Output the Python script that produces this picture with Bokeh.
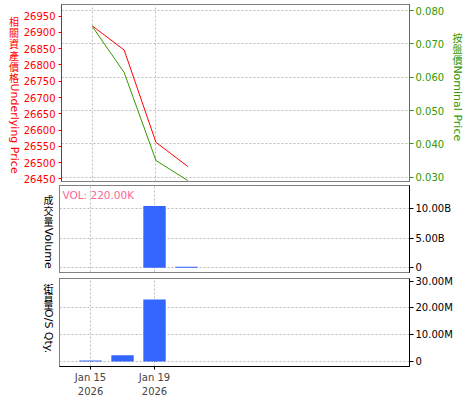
import math
from bokeh.plotting import figure
from bokeh.models import Range1d, LinearAxis, FixedTicker, Grid, Label, ColumnDataSource
from bokeh.layouts import column, row
from bokeh.embed import file_html
from bokeh.resources import INLINE

# ---------------- data ----------------
dates = ["Jan 15", "Jan 16", "Jan 19", "Jan 20"]
year = "2026"
day_index = [0, 1, 2, 3]
underlying_price = [26920, 26846, 26562, 26488]
nominal_price = [0.0752, 0.0614, 0.0350, 0.0290]
volume = [0.0, 0.0, 10.4e9, 0.15e9]
os_qty = [0.37e6, 2.35e6, 23.2e6, float("nan")]
vol_latest_label = "VOL: 220.00K"

x_tick_positions = [0, 2]
und_ticks = [26450, 26500, 26550, 26600, 26650, 26700, 26750, 26800, 26850, 26900, 26950]
nom_ticks = [0.03, 0.04, 0.05, 0.06, 0.07, 0.08]
vol_ticks = [0, 5e9, 10e9]
vol_tick_labels = ["0", "5.00B", "10.00B"]
os_ticks = [0, 1e7, 2e7, 3e7]
os_tick_labels = ["0", "10.00M", "20.00M", "30.00M"]

und_title_cjk = "相關資產價格"
und_title_latin = "Underlying Price"
nom_title_cjk = "按盤價"
nom_title_latin = "Nominal Price"
vol_title_cjk = "成交量"
vol_title_latin = "Volume"
os_title_cjk = "街貨量"
os_title_latin = "O/S Qty."

# ---------------- styles ----------------
RED = "#FF0000"
GREEN = "#339900"
BAR = "#3366FF"
PINK = "#FF6699"
GRID = "#BBBBBB"
TICK_FONT = "DejaVu Sans"
TICK_SIZE = "10px"
CJK_FONT = "Noto Sans CJK TC"
LAT_FONT = "DejaVu Sans"
PITCH = 11.6

TOTAL_W = 474
FRAME_L = 59      # page x of the frame's left edge
FRAME_R = 409     # page x of the frame's right edge
FRAME_W = FRAME_R - FRAME_L
X0, X1 = -0.97, 9.97

src = ColumnDataSource(dict(x=day_index, und=underlying_price, nom=nominal_price,
                            vol=volume, osq=os_qty))


def style_grids(p, yticks):
    for g in p.center:
        if isinstance(g, Grid):
            g.grid_line_color = GRID
            g.grid_line_dash = "2 2"
            g.grid_line_width = 1
            if g.dimension == 0:
                g.ticker = FixedTicker(ticks=x_tick_positions)
            elif yticks is not None:
                g.ticker = FixedTicker(ticks=yticks)


def panel(page_left, page_right, height, top, bottom, y_range, x_axis=None):
    p = figure(width=page_right - page_left, height=height, output_backend="svg",
               toolbar_location=None,
               x_range=Range1d(X0, X1), y_range=y_range,
               x_axis_location=x_axis, y_axis_location="right",
               min_border_left=FRAME_L - page_left,
               min_border_right=page_right - FRAME_R,
               min_border_top=top, min_border_bottom=bottom)
    p.background_fill_color = "white"
    p.border_fill_color = "white"
    p.outline_line_color = "black"
    p.outline_line_dash = "1 1"
    p.outline_line_width = 1
    return p


def style_axis(ax, color, ticks):
    ax.ticker = FixedTicker(ticks=ticks)
    ax.axis_line_color = color
    ax.major_tick_line_color = color
    ax.minor_tick_line_color = None
    ax.major_tick_out = 4
    ax.major_tick_in = 0
    ax.major_label_text_color = color
    ax.major_label_text_font = TICK_FONT
    ax.major_label_text_font_size = TICK_SIZE
    ax.major_label_standoff = 2


def title_fig(width, height, page_top, cx, top_y, cjk, latin, color):
    """Narrow figure holding a vertical title: upright CJK characters, then Latin text rotated clockwise."""
    t = figure(width=width, height=height, output_backend="svg", toolbar_location=None,
               x_range=Range1d(0, width), y_range=Range1d(0, height),
               x_axis_location=None, y_axis_location=None,
               min_border=0, min_border_left=0, min_border_right=0,
               min_border_top=0, min_border_bottom=0)
    t.outline_line_color = None
    t.background_fill_color = "white"
    t.border_fill_color = "white"
    for g in t.center:
        if isinstance(g, Grid):
            g.visible = False
    ys = [height - (top_y - page_top + PITCH / 2 + i * PITCH) for i in range(len(cjk))]
    t.text(x=[cx] * len(cjk), y=ys, text=list(cjk), text_font={"value": CJK_FONT},
           text_font_size="10px", text_color=color, text_align="center", text_baseline="middle")
    ly = height - (top_y - page_top + len(cjk) * PITCH + 0.5)
    t.text(x=[cx], y=[ly], text=[latin], text_font={"value": LAT_FONT},
           text_font_size="11px", text_color=color, text_align="left", text_baseline="middle",
           angle=-math.pi / 2)
    return t


def make_conv(frame_top, frame_bottom, y0, y1):
    def conv(px, py):
        x = X0 + (px - FRAME_L) * (X1 - X0) / FRAME_W
        y = y0 + (frame_bottom - py) * (y1 - y0) / (frame_bottom - frame_top)
        return x, y
    return conv


# ---------------- row 1: price panel (page y 0..184) ----------------
NOM0, NOM1 = 0.02871, 0.0818
UND0, UND1 = 26441.7, 26986.0
H1 = 184
p1 = panel(20, 449, H1, 4, 3, Range1d(NOM0, NOM1))
style_grids(p1, nom_ticks)
p1.extra_y_ranges = {"und": Range1d(UND0, UND1)}
style_axis(p1.yaxis[0], GREEN, nom_ticks)
p1.yaxis[0].major_label_overrides = {t: f"{t:.3f}" for t in nom_ticks}
left_ax = LinearAxis(y_range_name="und")
style_axis(left_ax, RED, und_ticks)
left_ax.major_tick_out = 3
left_ax.major_label_standoff = 3
p1.add_layout(left_ax, "left")
p1.line("x", "und", source=src, y_range_name="und", color=RED, line_width=1)
p1.line("x", "nom", source=src, color=GREEN, line_width=1)

t1 = title_fig(20, H1, 0, 13.5, 12, und_title_cjk, und_title_latin, RED)
t1r = title_fig(TOTAL_W - 449, H1, 0, 8, 28, nom_title_cjk, nom_title_latin, GREEN)

# ---------------- row 2: volume panel (page y 184..275) ----------------
V0, V1 = -0.8e9, 13.88e9
H2 = 91
p2 = panel(55, TOTAL_W, H2, 1, 3, Range1d(V0, V1))
style_grids(p2, vol_ticks)
style_axis(p2.yaxis[0], "black", vol_ticks)
p2.yaxis[0].major_label_overrides = dict(zip([float(t) for t in vol_ticks], vol_tick_labels))
p2.vbar(x="x", top="vol", bottom=0, width=0.7, source=src, color=BAR, line_color=None)
conv2 = make_conv(185, 272, V0, V1)
vx, vy = conv2(62, 194.5)
p2.add_layout(Label(x=vx, y=vy, text=vol_latest_label, text_font=LAT_FONT,
                    text_font_size="10.5px", text_color=PINK,
                    text_align="left", text_baseline="middle"))
t2 = title_fig(55, H2, 184, 48, 193, vol_title_cjk, vol_title_latin, "black")

# ---------------- row 3: outstanding quantity panel (page y 275..399) ----------------
O0, O1 = -1.87e6, 31.0e6
H3 = 124
p3 = panel(55, TOTAL_W, H3, 3, H3 - 3 - 88, Range1d(O0, O1), x_axis="below")
style_grids(p3, os_ticks[:-1])
style_axis(p3.yaxis[0], "black", os_ticks)
p3.yaxis[0].major_label_overrides = dict(zip([float(t) for t in os_ticks], os_tick_labels))
xa = p3.xaxis[0]
xa.ticker = FixedTicker(ticks=x_tick_positions)
xa.major_label_overrides = {float(i): f"{dates[i]}\n{year}" for i in x_tick_positions}
xa.axis_line_color = "black"
xa.major_tick_out = 3
xa.major_tick_in = 0
xa.minor_tick_line_color = None
xa.major_label_text_font = TICK_FONT
xa.major_label_text_font_size = TICK_SIZE
xa.major_label_text_line_height = 1.3
xa.major_label_standoff = 2
p3.vbar(x="x", top="osq", bottom=0, width=0.7, source=src, color=BAR, line_color=None)
t3 = title_fig(55, H3, 275, 48, 282.7, os_title_cjk, os_title_latin, "black")

layout = column(row(t1, p1, t1r, spacing=0), row(t2, p2, spacing=0), row(t3, p3, spacing=0),
                spacing=0)
open("out.html", "w").write(file_html(layout, INLINE))
